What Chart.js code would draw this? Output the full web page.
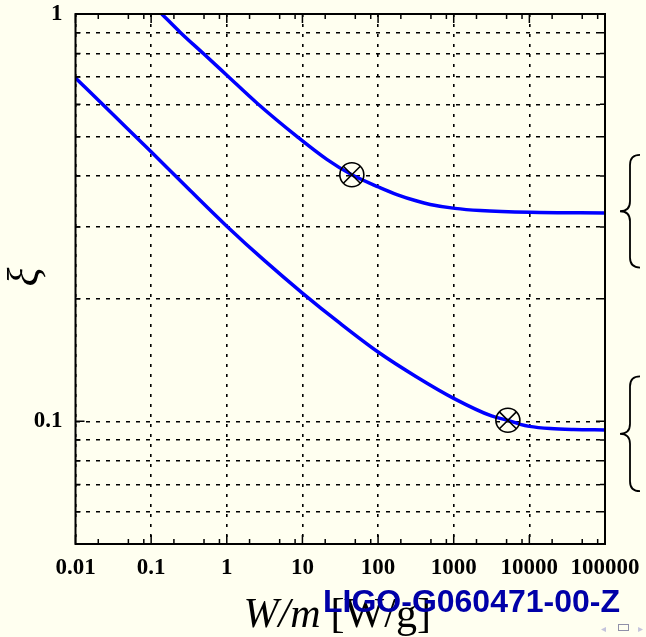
<!DOCTYPE html>
<html><head><meta charset="utf-8">
<script src="https://cdn.jsdelivr.net/npm/chart.js@4.4.1/dist/chart.umd.min.js"></script>
<style>html,body{margin:0;padding:0;background:#fffff0;overflow:hidden;}</style>
</head><body>
<canvas id="c" width="646" height="637"></canvas>
<script>
// ---- data ----
const upperX = [0.1381, 0.2411, 0.4903, 1.018, 2.540, 8.43, 21.02, 45.02, 103.4, 177.3, 326.1, 489, 1037, 2242, 10278, 100000];
const upperY = [1.0, 0.9024, 0.7997, 0.7055, 0.6031, 0.5008, 0.4398, 0.4030, 0.3756, 0.3604, 0.3474, 0.3408, 0.3333, 0.3293, 0.3260, 0.3247];
const lowerX = [0.01, 0.0316, 0.1, 0.316, 1, 3.16, 10, 31.6, 100, 316, 1000, 3162, 5200, 7590, 10000, 18900, 38400, 100000];
const lowerY = [0.6967, 0.5655, 0.4589, 0.3713, 0.3014, 0.2480, 0.2065, 0.1739, 0.1480, 0.1289, 0.1139, 0.1031, 0.1006, 0.0983, 0.0972, 0.0960, 0.0955, 0.0953];
const markerX = [45, 5200];
const markerY = [0.403, 0.1006];

const xTickValues = [0.01, 0.1, 1, 10, 100, 1000, 10000, 100000];
const xTickLabels = ["0.01", "0.1", "1", "10", "100", "1000", "10000", "100000"];
const xMinorFactors = [2, 5, 8];
const yTickValues = [0.1, 1];
const yTickLabels = ["0.1", "1"];
const yMinorValues = [0.05, 0.06, 0.07, 0.08, 0.09, 0.2, 0.3, 0.4, 0.5, 0.6, 0.7, 0.8, 0.9];
const braceRanges = [[0.451, 0.2385], [0.1289, 0.0674]];

const xTitleMath = "W/m";
const xTitleUnit = "[W/g]";
const yTitle = "ξ";
const docId = "LIGO-G060471-00-Z";

const BG = "rgb(255,255,240)";
const SERIF = "'Liberation Serif', 'DejaVu Serif', serif";

const toPts = (xs, ys) => xs.map((x, i) => ({x: x, y: ys[i]}));

const decorPlugin = {
  id: 'decor',
  beforeDraw(chart) {
    const ctx = chart.ctx;
    ctx.save();
    ctx.fillStyle = BG;
    ctx.fillRect(0, 0, chart.width, chart.height);
    ctx.restore();
  },
  afterDraw(chart) {
    const ctx = chart.ctx;
    const a = chart.chartArea;
    const xs = chart.scales.x, ys = chart.scales.y;
    ctx.save();
    // inward ticks
    ctx.strokeStyle = '#000';
    ctx.lineWidth = 1.5;
    ctx.beginPath();
    xs.ticks.forEach(t => {
      const p = xs.getPixelForValue(t.value);
      const len = xTickValues.includes(t.value) ? 9 : 5;
      ctx.moveTo(p, a.bottom); ctx.lineTo(p, a.bottom - len);
      ctx.moveTo(p, a.top); ctx.lineTo(p, a.top + len);
    });
    ys.ticks.forEach(t => {
      const p = ys.getPixelForValue(t.value);
      const len = yTickValues.includes(t.value) ? 9 : 5;
      ctx.moveTo(a.left, p); ctx.lineTo(a.left + len, p);
      ctx.moveTo(a.right, p); ctx.lineTo(a.right - len, p);
    });
    ctx.stroke();
    // frame
    ctx.lineWidth = 2;
    ctx.strokeRect(a.left, a.top, a.right - a.left, a.bottom - a.top);

    // braces on the right
    ctx.lineWidth = 1.8;
    braceRanges.forEach(r => {
      const y1 = ys.getPixelForValue(r[0]);
      const y2 = ys.getPixelForValue(r[1]);
      const x = a.right + 15, w = 20, q = 10;
      const mid = (y1 + y2) / 2;
      ctx.beginPath();
      ctx.moveTo(x + w, y1);
      ctx.quadraticCurveTo(x + w / 2, y1, x + w / 2, y1 + q);
      ctx.lineTo(x + w / 2, mid - q);
      ctx.quadraticCurveTo(x + w / 2, mid, x, mid);
      ctx.quadraticCurveTo(x + w / 2, mid, x + w / 2, mid + q);
      ctx.lineTo(x + w / 2, y2 - q);
      ctx.quadraticCurveTo(x + w / 2, y2, x + w, y2);
      ctx.stroke();
    });

    // y title
    ctx.fillStyle = '#000';
    ctx.save();
    ctx.translate(26, (a.top + a.bottom) / 2 - 2);
    ctx.rotate(-Math.PI / 2);
    ctx.font = "italic 44px " + SERIF;
    ctx.textAlign = 'center';
    ctx.textBaseline = 'middle';
    ctx.fillText(yTitle, 0, 0);
    ctx.restore();

    // x title
    ctx.textBaseline = 'alphabetic';
    ctx.textAlign = 'left';
    ctx.font = "italic 42px " + SERIF;
    const w1 = ctx.measureText(xTitleMath).width;
    ctx.font = "42px " + SERIF;
    const w2 = ctx.measureText(xTitleUnit).width;
    const gap = 10;
    let x0 = (a.left + a.right) / 2 - 3 - (w1 + gap + w2) / 2;
    ctx.font = "italic 42px " + SERIF;
    ctx.fillText(xTitleMath, x0, 627);
    ctx.font = "42px " + SERIF;
    ctx.fillText(xTitleUnit, x0 + w1 + gap, 627);

    // document id
    ctx.font = "bold 32px 'Liberation Sans', Arial, sans-serif";
    ctx.fillStyle = '#0000a8';
    ctx.fillText(docId, 323, 612);

    // navigation symbols
    ctx.fillStyle = '#c4c4dc';
    ctx.strokeStyle = '#9090a8';
    ctx.font = "10px 'DejaVu Sans', sans-serif";
    ctx.fillText("◂", 601, 632);
    ctx.fillText("▸", 638, 632);
    ctx.lineWidth = 1;
    ctx.strokeRect(618.5, 624.5, 10, 6);
    ctx.restore();
  }
};

new Chart(document.getElementById('c'), {
  type: 'scatter',
  data: {
    datasets: [
      { label: 'marker-x', data: toPts(markerX, markerY), pointStyle: 'crossRot', pointRadius: 12,
        borderColor: '#000', backgroundColor: 'rgba(0,0,0,0)', pointBorderWidth: 1.6, showLine: false },
      { label: 'marker-o', data: toPts(markerX, markerY), pointStyle: 'circle', pointRadius: 12,
        borderColor: '#000', backgroundColor: 'rgba(0,0,0,0)', pointBorderWidth: 1.6, showLine: false },
      { label: 'upper', data: toPts(upperX, upperY), showLine: true, pointRadius: 0,
        borderColor: '#0000ff', borderWidth: 3.5, cubicInterpolationMode: 'monotone' },
      { label: 'lower', data: toPts(lowerX, lowerY), showLine: true, pointRadius: 0,
        borderColor: '#0000ff', borderWidth: 3.5, cubicInterpolationMode: 'monotone' }
    ]
  },
  options: {
    responsive: false,
    animation: false,
    devicePixelRatio: 1,
    layout: { padding: { top: 14, right: 41, left: 0, bottom: 0 } },
    plugins: { legend: { display: false }, tooltip: { enabled: false } },
    scales: {
      x: {
        type: 'logarithmic', position: 'bottom', min: 0.01, max: 100000,
        afterBuildTicks: (s) => {
          const t = [];
          xTickValues.forEach((d, i) => {
            t.push({ value: d });
            if (i < xTickValues.length - 1) xMinorFactors.forEach(f => t.push({ value: d * f }));
          });
          s.ticks = t;
        },
        afterFit: (s) => { s.height = 93; s.paddingLeft = 0; s.paddingRight = 0; s.paddingTop = 0; s.paddingBottom = 0; },
        ticks: {
          autoSkip: false, maxRotation: 0, padding: 10, color: '#000',
          font: { family: SERIF, size: 23, weight: 'bold' },
          callback: (v) => { const i = xTickValues.indexOf(v); return i >= 0 ? xTickLabels[i] : ''; }
        },
        grid: {
          drawTicks: false, lineWidth: 1.6,
          color: (c) => (c.tick && xTickValues.includes(c.tick.value)) ? '#000' : 'rgba(0,0,0,0)'
        },
        border: { display: false, dash: [3, 7] }
      },
      y: {
        type: 'logarithmic', position: 'left', min: 0.05, max: 1,
        afterBuildTicks: (s) => {
          const vals = yMinorValues.concat(yTickValues).sort((p, q) => p - q);
          s.ticks = vals.map(v => ({ value: v }));
        },
        afterFit: (s) => { s.width = 75.5; s.paddingLeft = 0; s.paddingRight = 0; s.paddingTop = 0; s.paddingBottom = 0; },
        ticks: {
          autoSkip: false, padding: 13, color: '#000',
          font: { family: SERIF, size: 23, weight: 'bold' },
          callback: (v) => { const i = yTickValues.indexOf(v); return i >= 0 ? yTickLabels[i] : ''; }
        },
        grid: { drawTicks: false, lineWidth: 1.6, color: '#000' },
        border: { display: false, dash: [4, 6] }
      }
    }
  },
  plugins: [decorPlugin]
});
</script>
</body></html>
